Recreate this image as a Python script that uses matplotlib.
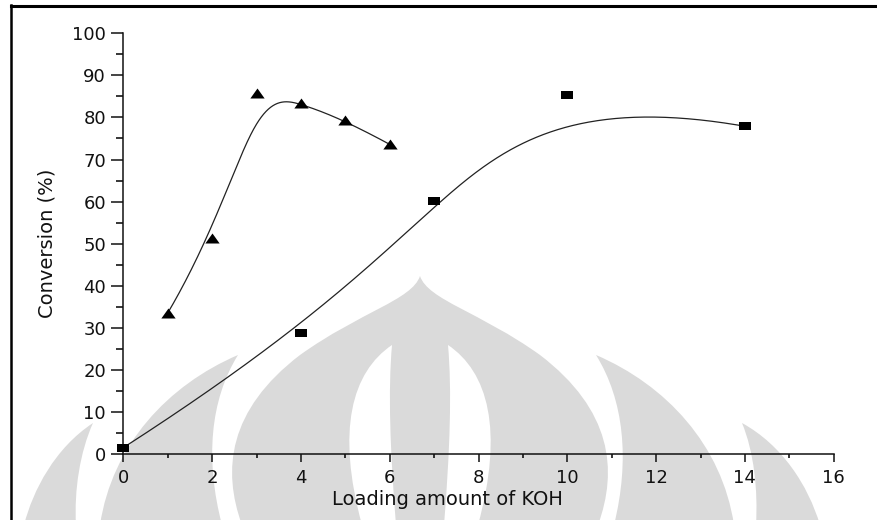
import numpy as np
import matplotlib
matplotlib.use("Agg")
import matplotlib.pyplot as plt
from matplotlib.path import Path
from matplotlib.patches import PathPatch
from matplotlib.lines import Line2D
from matplotlib.transforms import Affine2D

# KOH loading series (triangles) and second series (squares), conversion in %
koh_a = [1, 2, 3, 4, 5, 6]
conv_a = [33.5, 51.4, 85.9, 83.4, 79.3, 73.6]

koh_b = [0, 4, 7, 10, 14]
conv_b = [1.5, 28.7, 60.2, 85.3, 77.9]

x_ticks = [0, 2, 4, 6, 8, 10, 12, 14, 16]
y_ticks = [0, 10, 20, 30, 40, 50, 60, 70, 80, 90, 100]


def bspline(xs, ys, k=3, n=400):
    """Clamped B-spline curve using the data points as control points."""
    pts = np.column_stack([xs, ys]).astype(float)
    m = len(pts)
    k = min(k, m - 1)
    knots = np.concatenate([np.zeros(k), np.linspace(0, 1, m - k + 1), np.ones(k)])
    t = np.linspace(0, 1, n)
    nb = len(knots) - 1
    N = np.zeros((n, nb))
    for i in range(nb):
        N[:, i] = (t >= knots[i]) & (t < knots[i + 1])
    last = max(i for i in range(nb) if knots[i] < knots[i + 1])
    N[-1, :] = 0
    N[-1, last] = 1
    for p in range(1, k + 1):
        Nn = np.zeros((n, nb - p))
        for i in range(nb - p):
            d1 = knots[i + p] - knots[i]
            d2 = knots[i + p + 1] - knots[i + 1]
            a = (t - knots[i]) / d1 * N[:, i] if d1 > 0 else 0
            b = (knots[i + p + 1] - t) / d2 * N[:, i + 1] if d2 > 0 else 0
            Nn[:, i] = a + b
        N = Nn
    c = N @ pts
    return c[:, 0], c[:, 1]


W, H = 878, 520
plt.rcParams["font.family"] = ["DejaVu Sans"]
fig = plt.figure(figsize=(W / 100, H / 100), dpi=100)
fig.patch.set_facecolor("white")

# pixel -> figure-fraction transform for decoration
px = Affine2D().scale(1 / W, -1 / H).translate(0, 1) + fig.transFigure

# faint background emblem
wm = "#dadada"
MV, CU, CL, LT = Path.MOVETO, Path.CURVE4, Path.CLOSEPOLY, Path.LINETO


def shape(verts, codes, color):
    p = PathPatch(Path(verts, codes), facecolor=color, edgecolor="none",
                  transform=px, zorder=-5)
    fig.add_artist(p)


# central bulb
shape([(242, 525), (222, 470), (228, 410), (300, 355), (360, 312), (412, 300),
       (420, 276), (428, 300), (480, 312), (540, 355), (612, 410), (618, 470),
       (598, 525), (242, 525)],
      [MV, CU, CU, CU, CU, CU, CU, CU, CU, CU, CU, CU, CU, CL], wm)
# two light lenses inside the bulb
shape([(392, 345), (352, 372), (336, 430), (362, 525), (396, 525),
       (390, 450), (388, 390), (392, 345)],
      [MV, CU, CU, CU, LT, CU, CU, CU], "white")
shape([(448, 345), (488, 372), (504, 430), (478, 525), (444, 525),
       (450, 450), (452, 390), (448, 345)],
      [MV, CU, CU, CU, LT, CU, CU, CU], "white")
# left petals
shape([(238, 355), (168, 385), (112, 445), (100, 525), (222, 525), (205, 460),
       (210, 400), (238, 355)],
      [MV, CU, CU, CU, LT, CU, CU, CU], wm)
shape([(93, 423), (55, 448), (33, 490), (24, 525), (76, 525), (74, 490),
       (80, 452), (93, 423)],
      [MV, CU, CU, CU, LT, CU, CU, CU], wm)
# right petals
shape([(596, 355), (666, 385), (722, 445), (734, 525), (614, 525), (630, 460),
       (624, 400), (596, 355)],
      [MV, CU, CU, CU, LT, CU, CU, CU], wm)
shape([(742, 423), (782, 445), (808, 485), (820, 525), (756, 525), (758, 490),
       (754, 452), (742, 423)],
      [MV, CU, CU, CU, LT, CU, CU, CU], wm)

# page frame (top and left rules)
fig.add_artist(Line2D([11, 878], [5.5, 5.5], color="black", lw=2.2, transform=px))
fig.add_artist(Line2D([11.5, 11.5], [5, 520], color="black", lw=1.8, transform=px))

ax = fig.add_axes([123.3 / W, 1 - 454 / H, (833.7 - 123.3) / W, (454 - 33.3) / H])
ax.patch.set_alpha(0)

ax.set_xlim(0, 16)
ax.set_ylim(0, 100)
for s in ("top", "right"):
    ax.spines[s].set_visible(False)
for s in ("left", "bottom"):
    ax.spines[s].set_linewidth(1.1)
    ax.spines[s].set_color("#111111")

ax.set_xticks(x_ticks)
ax.set_yticks(y_ticks)
ax.set_xticks(np.arange(1, 16, 2), minor=True)
ax.set_yticks(np.arange(5, 100, 10), minor=True)
ax.tick_params(axis="x", which="major", direction="out", length=6, width=1.1,
               pad=5, labelsize=13, colors="#111111")
ax.tick_params(axis="x", which="minor", direction="out", length=3, width=1.1)
ax.tick_params(axis="y", which="major", direction="out", length=9, width=1.1,
               pad=3.5, labelsize=13, colors="#111111")
ax.tick_params(axis="y", which="minor", direction="out", length=5, width=1.1)

ax.set_xlabel("Loading amount of KOH", fontsize=14, color="#111111")
ax.set_ylabel("Conversion (%)", fontsize=14, color="#111111")
ax.xaxis.set_label_coords(0.456, -0.085)
ax.yaxis.set_label_coords(-0.094, 0.5)

# smooth connecting curves
for xs, ys in ((koh_a, conv_a), (koh_b, conv_b)):
    cx, cy = bspline(xs, ys, k=3)
    ax.plot(cx, cy, color="#222222", lw=0.9, zorder=2)

# wide markers
sq = [(-1.5, -1), (1.5, -1), (1.5, 1), (-1.5, 1), (-1.5, -1)]
tri = [(-1, -0.7), (1, -0.7), (0, 0.7), (-1, -0.7)]
ax.plot(koh_a, conv_a, linestyle="none", marker=tri, markersize=10.3,
        color="black", markeredgewidth=0, clip_on=False, zorder=3)
ax.plot(koh_b, conv_b, linestyle="none", marker=sq, markersize=8.4,
        color="black", markeredgewidth=0, clip_on=False, zorder=3)

fig.savefig("out.png", dpi=100)
